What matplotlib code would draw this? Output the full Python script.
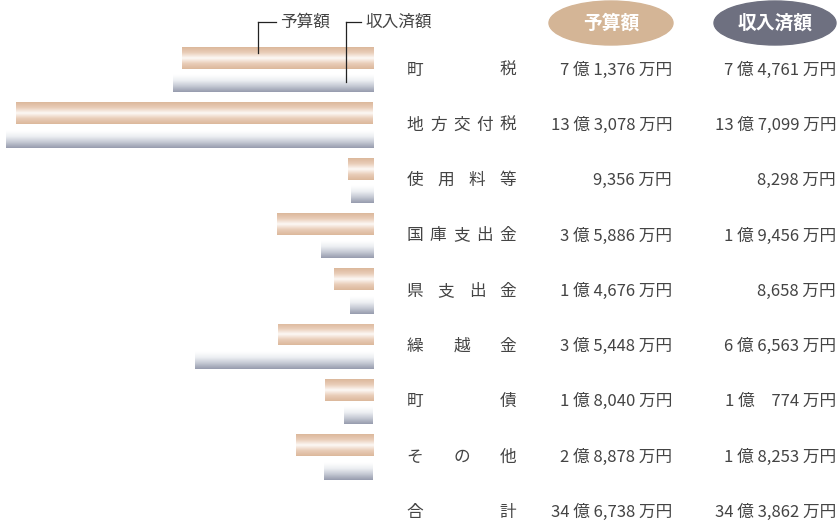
import numpy as np
import matplotlib
matplotlib.use("Agg")
import matplotlib.pyplot as plt
from matplotlib.patches import Ellipse
from matplotlib.colors import LinearSegmentedColormap

plt.rcParams['font.family'] = ['Noto Sans CJK JP', 'DejaVu Sans']

# data (万円)
categories = ['町税', '地方交付税', '使用料等', '国庫支出金', '県支出金', '繰越金', '町債', 'その他', '合計']
budget = [71376, 133078, 9356, 35886, 14676, 35448, 18040, 28878]
revenue = [74761, 137099, 8298, 19456, 8658, 66563, 10774, 18253]
budget_lbl = ['7 億 1,376 万円', '13 億 3,078 万円', '9,356 万円', '3 億 5,886 万円', '1 億 4,676 万円',
              '3 億 5,448 万円', '1 億 8,040 万円', '2 億 8,878 万円', '34 億 6,738 万円']
revenue_lbl = ['7 億 4,761 万円', '13 億 7,099 万円', '8,298 万円', '1 億 9,456 万円', '8,658 万円',
               '6 億 6,563 万円', '1 億　774 万円', '1 億 8,253 万円', '34 億 3,862 万円']

W, H = 838, 525
fig = plt.figure(figsize=(W / 100, H / 100), dpi=100)

row0, rowstep = 70, 55.3
scale = 0.00268  # px per 万円
bar_right = 373

# bar axes: x in 万円 (inverted), y in rows
ax = fig.add_axes([0, 0, bar_right / W, 1])
ax.set_xlim(bar_right / scale, 0)
ax.set_ylim((H - row0) / rowstep, -row0 / rowstep)
ax.axis('off')

rows = np.arange(len(budget))
b_bars = ax.barh(rows - 12 / rowstep, budget, height=22 / rowstep, color='none', zorder=2)
r_bars = ax.barh(rows + 11 / rowstep, revenue, height=23 / rowstep, color='none', zorder=3)

cm_b = LinearSegmentedColormap.from_list('b', ['#dcb89c', '#e9cdb8', '#fdf9f6', '#e9cdb8', '#dcb89c'])
cm_r = LinearSegmentedColormap.from_list('r', ['#ffffff', '#ffffff', '#eceef2', '#c4c8d3', '#979cae'])
grad = np.linspace(0, 1, 64).reshape(-1, 1)
for bars, cm, z in [(b_bars, cm_b, 2), (r_bars, cm_r, 3)]:
    for p in bars:
        x0, y0 = p.get_x(), p.get_y()
        w, h = p.get_width(), p.get_height()
        im = ax.imshow(grad, cmap=cm, aspect='auto', extent=[x0, x0 + w, y0 + h, y0],
                       interpolation='bilinear', zorder=z)
        im.set_clip_path(p)
ax.set_xlim(bar_right / scale, 0)
ax.set_ylim((H - row0) / rowstep, -row0 / rowstep)

# text overlay in pixel coords
tx = fig.add_axes([0, 0, 1, 1])
tx.set_xlim(0, W)
tx.set_ylim(H, 0)
tx.axis('off')
tx.patch.set_alpha(0)

tc = '#444444'
num_font = ['Liberation Sans Narrow', 'Noto Sans CJK JP']
for i, cat in enumerate(categories):
    y = row0 + rowstep * i
    n = len(cat)
    xs = np.linspace(415, 508, n) if n > 1 else [415]
    for ch, x in zip(cat, xs):
        tx.text(x, y, ch, ha='center', va='center', fontsize=12, color=tc)
    tx.text(672, y, budget_lbl[i], ha='right', va='center', fontsize=12, color=tc, family=num_font)
    tx.text(836, y, revenue_lbl[i], ha='right', va='center', fontsize=12, color=tc, family=num_font)

# header pills
tx.add_patch(Ellipse((611, 23), 124, 44, color='#d4b596'))
tx.add_patch(Ellipse((775, 23), 122, 44, color='#6e7080'))
tx.text(611, 23, '予算額', ha='center', va='center', fontsize=13.5, color='white', weight='bold')
tx.text(775, 23, '収入済額', ha='center', va='center', fontsize=13.5, color='white', weight='bold')

# legend leaders
tx.plot([258, 276], [22, 22], color='#222222', lw=0.9)
tx.plot([258, 258], [22, 53], color='#222222', lw=0.9)
tx.text(280, 22, '予算額', ha='left', va='center', fontsize=12, color=tc)
tx.plot([346, 361], [22, 22], color='#222222', lw=0.9)
tx.plot([346, 346], [22, 82], color='#222222', lw=0.9)
tx.text(365, 22, '収入済額', ha='left', va='center', fontsize=12, color=tc)

fig.savefig('out.png', dpi=100)
